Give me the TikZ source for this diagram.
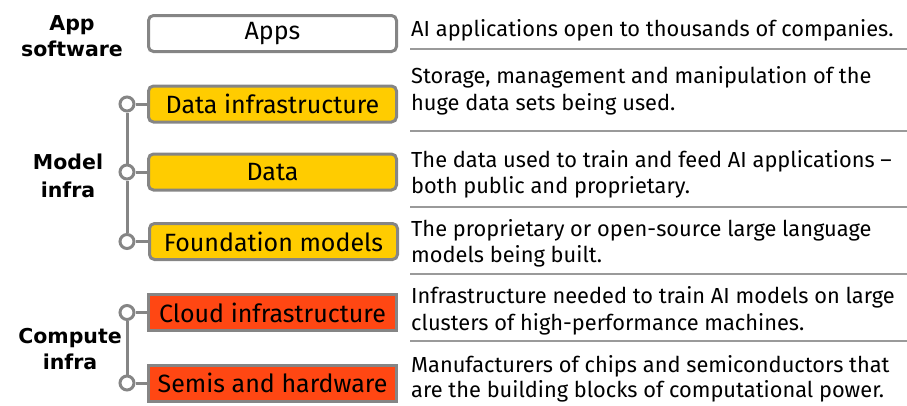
\documentclass[tikz,border=0pt]{standalone}
\usepackage{fontspec}
\setmainfont{Fira Sans}
\newfontfamily\grpface{DejaVu Sans}
\definecolor{bordergray}{HTML}{858585}
\definecolor{sepgray}{HTML}{9A9A9A}
\definecolor{myyellow}{HTML}{FFCC00}
\definecolor{myred}{HTML}{FF4713}
\newcommand{\txtfont}{\fontsize{21.8}{27}\selectfont}
\newcommand{\boxfont}{\fontsize{25}{30}\selectfont}
\newcommand{\grpfont}{\grpface\bfseries\fontsize{20.5}{26.5}\selectfont}
\begin{document}
\begin{tikzpicture}[x=1pt,y=-1pt,
  box/.style={draw=bordergray, line width=3pt, minimum width=248pt, minimum height=36pt, inner sep=0pt, font=\boxfont},
  whitebox/.style={box, rounded corners=5pt, fill=white},
  ybox/.style={box, rounded corners=5pt, fill=myyellow},
  rbox/.style={box, fill=myred},
  dot/.style={circle, draw=bordergray, line width=3pt, fill=white, minimum size=14pt, inner sep=0pt},
  conn/.style={draw=bordergray, line width=3pt},
  sep/.style={draw=sepgray, line width=1.5pt},
  desc/.style={anchor=base west, inner sep=0pt, font=\txtfont},
  grp/.style={align=center, inner sep=0pt, font=\grpfont}]
\useasboundingbox (0,0) rectangle (907,405);
% boxes
\node[whitebox] (b0) at (272.5,33.5) {Apps};
\node[ybox] (b1) at (272.5,104) {Data infrastructure};
\node[ybox] (b2) at (272.5,172) {Data};
\node[ybox] (b3) at (273.5,241.5) {Foundation models};
\node[rbox] (b4) at (272.5,312.5) {Cloud infrastructure};
\node[rbox] (b5) at (272.5,383) {Semis and hardware};
% dots
\node[dot] (d1) at (127,104) {};
\node[dot] (d2) at (127,172) {};
\node[dot] (d3) at (127,241.5) {};
\node[dot] (d4) at (127,312.5) {};
\node[dot] (d5) at (127,383) {};
% connectors
\draw[conn] (d1) -- (d2);
\draw[conn] (d2) -- (d3);
\draw[conn] (d4) -- (d5);
\draw[conn] (d1) -- (b1);
\draw[conn] (d2) -- (b2);
\draw[conn] (d3) -- (b3);
\draw[conn] (d4) -- (b4);
\draw[conn] (d5) -- (b5);
% group labels
\node[grp] (g0) at (72,36) {App\\software};
\node[grp] (g1) at (68,176) {Model\\[1pt]infra};
\node[grp] (g2) at (70,349) {Compute\\infra};
% descriptions
\node[desc] (t0a) at (411,36) {AI applications open to thousands of companies.};
\node[desc] (t1a) at (411,83) {Storage, management and manipulation of the};
\node[desc] (t1b) at (411,110) {huge data sets being used.};
\node[desc] (t2a) at (411,167) {The data used to train and feed AI applications --};
\node[desc] (t2b) at (411,193) {both public and proprietary.};
\node[desc] (t3a) at (411,236) {The proprietary or open-source large language};
\node[desc] (t3b) at (411,262) {models being built.};
\node[desc] (t4a) at (411,303) {Infrastructure needed to train AI models on large};
\node[desc] (t4b) at (411,330) {clusters of high-performance machines.};
\node[desc] (t5a) at (411,372) {Manufacturers of chips and semiconductors that};
\node[desc] (t5b) at (411,397) {are the building blocks of computational power.};
% separators
\coordinate (s1a) at (410,49);  \coordinate (s1b) at (907,49);
\coordinate (s2a) at (410,131); \coordinate (s2b) at (907,131);
\coordinate (s3a) at (410,207); \coordinate (s3b) at (907,207);
\coordinate (s4a) at (410,274); \coordinate (s4b) at (907,274);
\coordinate (s5a) at (410,341); \coordinate (s5b) at (907,341);
\draw[sep] (s1a) -- (s1b);
\draw[sep] (s2a) -- (s2b);
\draw[sep] (s3a) -- (s3b);
\draw[sep] (s4a) -- (s4b);
\draw[sep] (s5a) -- (s5b);
\end{tikzpicture}
\end{document}
